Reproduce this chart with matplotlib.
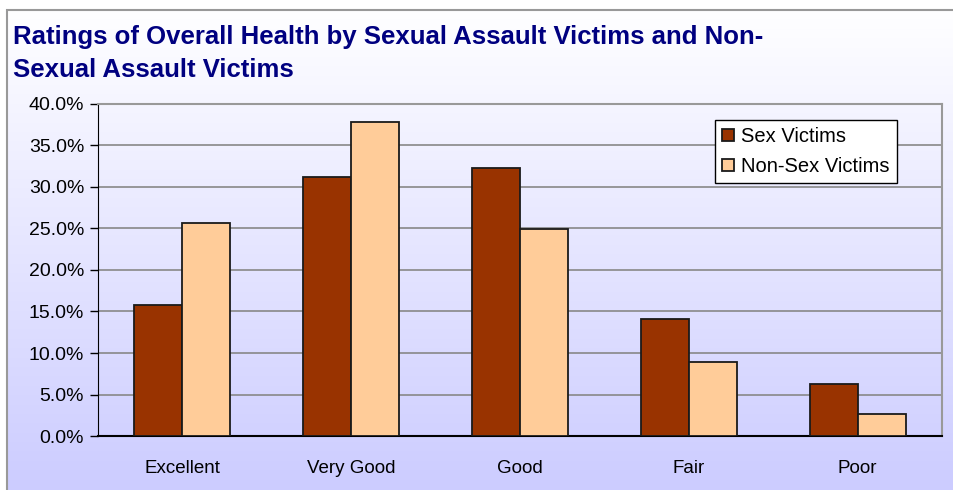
import numpy as np
import matplotlib.pyplot as plt
from matplotlib.patches import Rectangle
from matplotlib.ticker import FuncFormatter

# Ratings of overall health, percent of respondents
categories = ["Excellent", "Very Good", "Good", "Fair", "Poor"]
sex_victims = [15.8, 31.2, 32.3, 14.1, 6.3]
non_sex_victims = [25.7, 37.8, 24.9, 8.9, 2.7]
series_names = ["Sex Victims", "Non-Sex Victims"]
title = "Ratings of Overall Health by Sexual Assault Victims and Non-\nSexual Assault Victims"

plt.rcParams['font.family'] = ['Liberation Sans', 'DejaVu Sans']

fig = plt.figure(figsize=(9.54, 4.9), dpi=100)

# gradient background inside the chart frame (white at top, lavender at bottom)
bg = fig.add_axes([7 / 954, 0, 1 - 7 / 954, 1 - 10 / 490], zorder=0)
grad = np.linspace(0, 1, 256).reshape(-1, 1)
top_col = np.array([1.0, 1.0, 1.0])
bot_col = np.array([0.80, 0.80, 1.0])
img = top_col + (bot_col - top_col) * grad[:, :, None]
bg.imshow(img, aspect='auto', extent=[0, 1, 0, 1], origin='upper')
bg.axis('off')
fig.patches.append(Rectangle((7 / 954, -0.01), 1.0, 1 - 10 / 490 + 0.01, transform=fig.transFigure,
                             fill=False, edgecolor='#999999', linewidth=1.5, zorder=1))

ax = fig.add_axes([98 / 954, 1 - 436 / 490, 844 / 954, 332 / 490], zorder=2)
ax.patch.set_alpha(0)

x = np.arange(len(categories))
w = 0.284
ax.bar(x - w / 2, sex_victims, w, color='#993300', edgecolor='#1a1a1a', linewidth=1.3,
       label=series_names[0], zorder=3)
ax.bar(x + w / 2, non_sex_victims, w, color='#FFCC99', edgecolor='#1a1a1a', linewidth=1.3,
       label=series_names[1], zorder=3)

ax.set_xlim(-0.5, len(categories) - 0.5)
ax.set_ylim(0, 40)
ax.set_yticks(np.arange(0, 41, 5))
ax.yaxis.set_major_formatter(FuncFormatter(lambda v, p: f"{v:.1f}%"))
ax.grid(axis='y', color='#888888', linewidth=1.2, zorder=1)
ax.set_xticks(x)
ax.set_xticklabels(categories)
ax.tick_params(axis='x', length=0, pad=17, labelsize=13.5)
ax.tick_params(axis='y', length=6, width=1, direction='out', labelsize=14, pad=4)

for s in ['top', 'right']:
    ax.spines[s].set_color('#999999')
    ax.spines[s].set_linewidth(1.5)
ax.spines['left'].set_color('black')
ax.spines['bottom'].set_color('black')
ax.spines['bottom'].set_linewidth(1.5)

leg = ax.legend(loc='upper left', bbox_to_anchor=(607 / 844, 1 - 6 / 332), fontsize=14.5,
                frameon=True, fancybox=False, edgecolor='black', handlelength=0.6,
                handleheight=0.6, handletextpad=0.35, borderpad=0.35, labelspacing=0.55)
leg.get_frame().set_linewidth(1)
leg.get_frame().set_facecolor('white')
leg.get_frame().set_alpha(1)

fig.text(13 / 954, 1 - 25 / 490, title, color='#000080', fontsize=18.5, fontweight='bold',
         va='top', ha='left', linespacing=1.45)

fig.savefig('out.png', dpi=100)
